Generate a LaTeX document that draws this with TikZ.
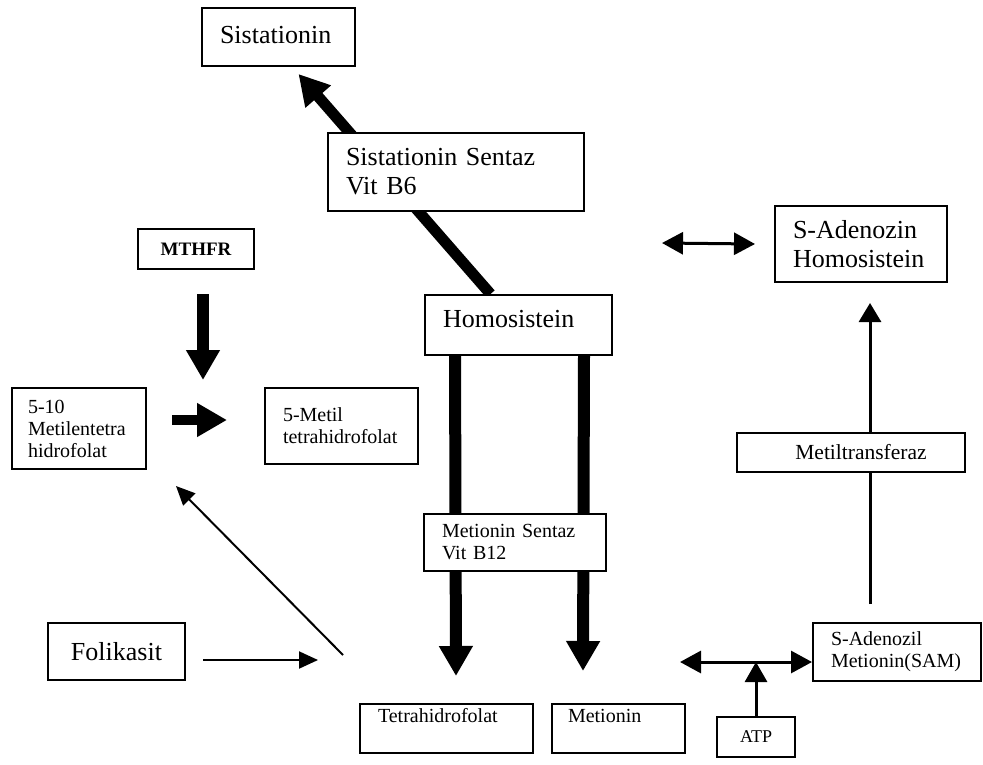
\documentclass[tikz,border=0pt]{standalone}
\usepackage{fontspec}
\setmainfont{Liberation Serif}
\usetikzlibrary{arrows.meta,backgrounds}

\newcommand{\boxLineWidth}{2pt}
\newcommand{\mainLineWidth}{12pt}
\newcommand{\thinLineWidth}{2.5pt}
\newcommand{\bigFont}{\fontsize{26}{29}\selectfont}
\newcommand{\smallFont}{\fontsize{20}{22}\selectfont}

\tikzset{
  cyclebox/.style={draw, line width=\boxLineWidth, fill=white, inner xsep=18pt, inner ysep=0pt, align=left},
  bigbox/.style={cyclebox, font=\bigFont},
  smallbox/.style={cyclebox, font=\smallFont},
  mainarrow/.style={line width=\mainLineWidth, -{Triangle[width=32pt,length=30pt]}},
  thinarrow/.style={line width=\thinLineWidth, -{Triangle[width=17pt,length=19pt]}},
  botharrow/.style={line width=3pt, {Triangle[width=22pt,length=21pt]}-{Triangle[width=22pt,length=21pt]}}
}

\begin{document}
\begin{tikzpicture}[x=1pt,y=-1pt]
        \useasboundingbox (0,0) rectangle (983,764);

        % Boxes
        \node[bigbox, text width=117pt, text height=35pt, text depth=23pt] (sist) at (278.5,37) {Sistationin};
        \node[bigbox, text width=220pt, minimum height=78pt] (sentaz) at (456,172) {Sistationin Sentaz\\Vit B6};
        \node[cyclebox, font=\fontsize{19}{22}\selectfont\bfseries, align=center, minimum width=116pt, minimum height=40pt] (mthfr) at (196,249) {MTHFR};
        \node[smallbox, inner xsep=16pt, text width=102pt, minimum height=81pt] (metilen) at (79,428.5) {5-10\\Metilentetra\\hidrofolat};
        \node[smallbox, text width=117pt, minimum height=76pt] (metil) at (341.5,426) {5-Metil\\tetrahidrofolat};
        \node[bigbox, text width=151pt, text height=32pt, text depth=28pt] (homo) at (518.5,325) {Homosistein};
        \node[smallbox, text width=146pt, minimum height=57pt] (msentaz) at (515,542.5) {Metionin Sentaz\\Vit B12};
        \node[smallbox, text width=137pt, text height=18pt, text depth=31pt] (tetra) at (446.5,728.5) {Tetrahidrofolat};
        \node[smallbox, inner xsep=16pt, text width=101pt, text height=18pt, text depth=31pt] (metionin) at (618.5,728.5) {Metionin};
        \node[bigbox, align=center, minimum width=137pt, minimum height=57pt] (folik) at (116.5,651.5) {Folikasit};
        \node[bigbox, text width=136pt, minimum height=76pt] (sah) at (861,244) {S-Adenozin\\Homosistein};
        \node[cyclebox, font=\fontsize{21.5}{24}\selectfont, align=center, minimum width=228pt, minimum height=39pt] (metiltr) at (851,452.5) {\hspace*{20pt}Metiltransferaz};
        \node[smallbox, text width=132pt, minimum height=58pt] (sam) at (897,652) {S-Adenozil\\Metionin(SAM)};
        \node[cyclebox, font=\fontsize{18}{20}\selectfont, align=center, inner xsep=0pt, minimum width=78pt, minimum height=40pt] (atp) at (756,737) {ATP};

        % Free ends
        \coordinate (mthfrTip) at (203,380);
        \coordinate (folikTip) at (318,660);
        \coordinate (thfStart) at (343,655);
        \coordinate (sahLeft) at (662,243);
        \coordinate (samLeft) at (680,662);
        \coordinate (samJoin) at (756,662);

        \begin{scope}[on background layer]
        % Draw thick arrows
        \draw[mainarrow, line width=11pt] ([xshift=-28pt]homo.north) -- ([shift={(20,7)}]sist.south);
        \draw[mainarrow] ([shift={(7,24)}]mthfr.south) -- (mthfrTip);
        \draw[mainarrow, line width=10pt] ([shift={(25,-8.5)}]metilen.east) -- ([shift={(-37,-6)}]metil.west);
        \draw[mainarrow] ([xshift=31pt]homo.south west) -- ([shift={(9.5,-27)}]tetra.north);
        \draw[mainarrow] ([xshift=-29pt]homo.south east) -- ([shift={(-35.5,-32)}]metionin.north);

        % Draw thin arrows
        \draw[thinarrow, line width=2pt] ([shift={(17,8.5)}]folik.east) -- (folikTip);
        \draw[thinarrow, line width=2pt] (thfStart) -- ([shift={(29,16)}]metilen.south east);
        \draw[botharrow] (sahLeft) -- ([xshift=-19pt]sah.west);
        \draw[thinarrow, line width=3pt, -{Triangle[width=22pt,length=19pt]}] ([xshift=19pt]metiltr.north) -- ([shift={(9,20)}]sah.south);
        \draw[line width=3pt] ([shift={(-27,-18)}]sam.north) -- ([xshift=19pt]metiltr.south);
        \draw[botharrow] (samLeft) -- ([shift={(0,10)}]sam.west);
        \draw[thinarrow, line width=3pt, -{Triangle[width=22pt,length=20pt]}] (atp.north) -- (samJoin);
        \end{scope}
    \end{tikzpicture}
\end{document}
